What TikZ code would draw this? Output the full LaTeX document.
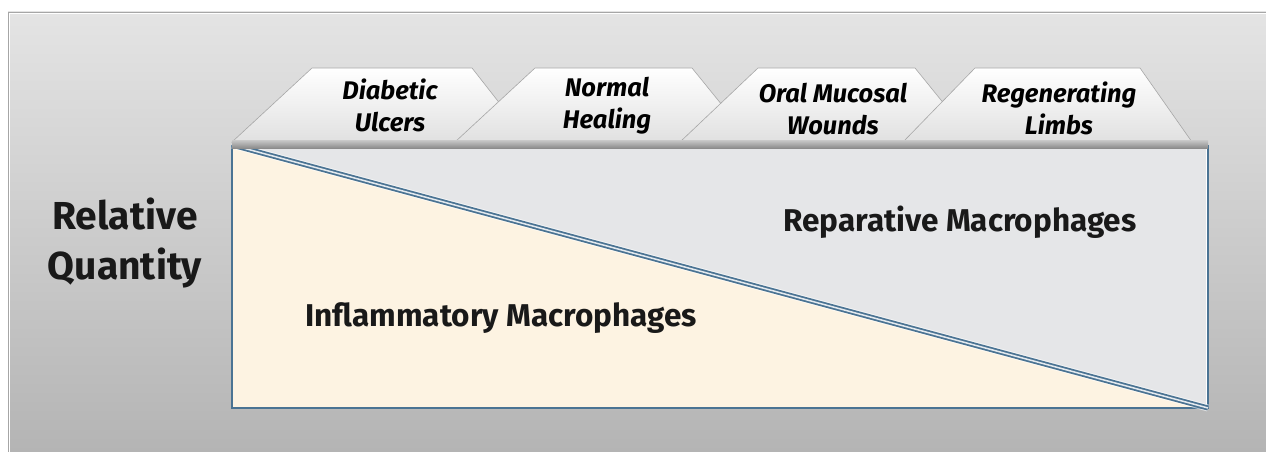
\documentclass[tikz,border=0pt]{standalone}
\usepackage{fontspec}
\setmainfont{Fira Sans}
\usetikzlibrary{calc}
\definecolor{bgtop}{HTML}{E4E4E4}
\definecolor{bgbot}{HTML}{B4B4B4}
\definecolor{cream}{HTML}{FDF3E2}
\definecolor{repgray}{HTML}{E5E6E8}
\definecolor{steel}{HTML}{4A7393}
\definecolor{bandtop}{HTML}{C9C9C9}
\definecolor{bandbot}{HTML}{8C8C8C}
\tikzset{
  tabshape/.style={top color=white, bottom color=white!88!black, draw=white!65!black, line width=0.6pt},
  tabtext/.style={font=\fontsize{25.5}{32}\selectfont\bfseries\itshape, align=center, text=black},
  bigtext/.style={font=\fontsize{31.5}{36}\selectfont\bfseries, text=black!90},
  sidetext/.style={font=\fontsize{39}{50}\selectfont\bfseries, align=center, text=black!90},
}
\begin{document}
\begin{tikzpicture}[x=1pt,y=-1pt]
\useasboundingbox (0,0) rectangle (1266,452);
\fill[white] (0,0) rectangle (1266,452);
% background panel
\shade[top color=bgtop, bottom color=bgbot] (8,12) rectangle (1266,452);
\draw[white, line width=1.5pt] (9,452) -- (9,13) -- (1266,13);
\draw[black!35, line width=0.6pt] (8,452) -- (8,12) -- (1266,12);
% main box
\coordinate (tl) at (232,145);
\coordinate (tr) at (1208,145);
\coordinate (br) at (1208,408);
\coordinate (bl) at (232,408);
\fill[repgray] (tl) -- (tr) -- (br) -- cycle;
\fill[cream] (tl) -- (br) -- (bl) -- cycle;
\draw[steel, line width=1.2pt] (tr) -- (br) -- (bl) -- (tl);
\draw[white, line width=0.8pt] (1206,147) -- (1206,404);
% diagonal
\draw[white, line width=7pt, opacity=0.6] (tl) -- (br);
\draw[steel, line width=1.8pt, double=white!85!steel, double distance=1.5pt] (tl) -- (br);
% tabs
\draw[tabshape] (232,142) -- (312,68) -- (472,68) -- (530,142) -- cycle;
\draw[tabshape] (455,142) -- (535,68) -- (692,68) -- (752,142) -- cycle;
\draw[tabshape] (680,142) -- (758,68) -- (915,68) -- (975,142) -- cycle;
\draw[tabshape] (903,142) -- (975,68) -- (1140,68) -- (1192,142) -- cycle;
% band under tabs
\shade[top color=bandtop, bottom color=bandbot] (232,140) rectangle (1208,148);
% texts
\node[tabtext] (d1) at (390,105) {Diabetic\\Ulcers};
\node[tabtext] (d2) at (607,106) {Normal\\Healing};
\node[tabtext] (d3) at (833,109) {Oral Mucosal\\Wounds};
\node[tabtext] (d4) at (1059,108) {Regenerating\\Limbs};
\node[sidetext] (rq) at (125,243) {Relative\\Quantity};
\node[bigtext] (rep) at (960,222) {Reparative Macrophages};
\node[bigtext] (inf) at (501,318) {Inflammatory Macrophages};
\end{tikzpicture}
\end{document}
